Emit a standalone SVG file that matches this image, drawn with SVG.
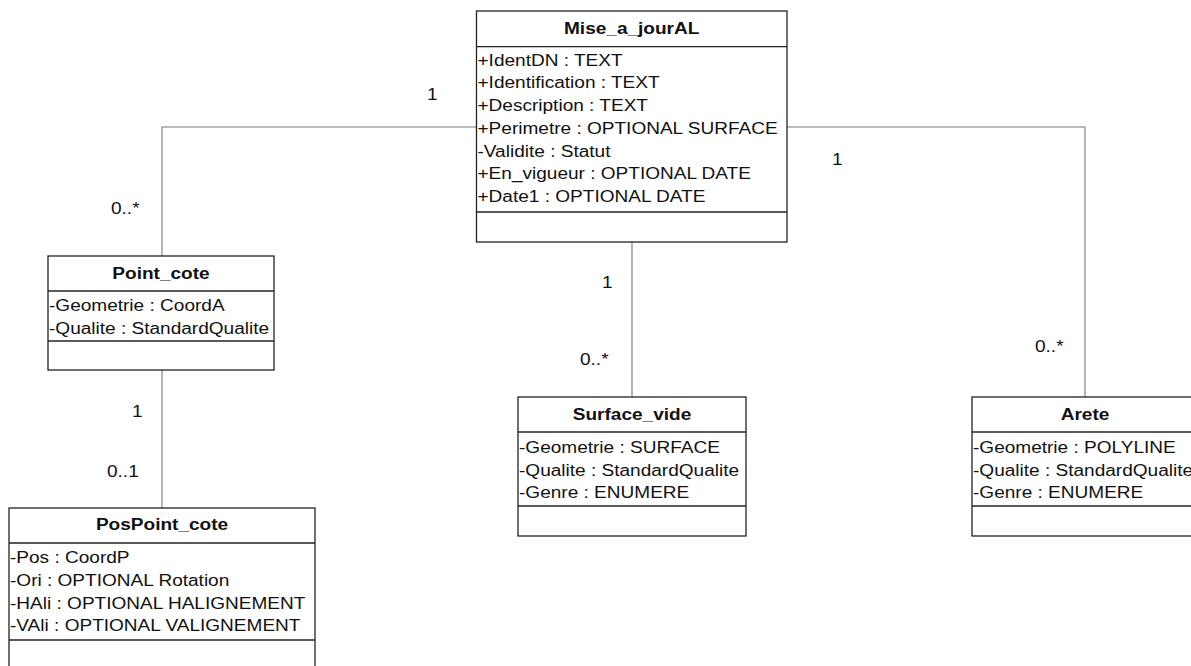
<svg xmlns="http://www.w3.org/2000/svg" width="1191" height="666" viewBox="0 0 1191 666">
<style>
.box{fill:#ffffff;stroke:#222222;stroke-width:1.3}
.sep{stroke:#222222;stroke-width:1.3;fill:none}
.conn{stroke:#777777;stroke-width:1.1;fill:none}
text{font-family:"Liberation Sans",Arial,sans-serif;font-size:16px;fill:#111111}
.title{font-weight:bold;text-anchor:middle}
</style>
<rect width="1191" height="666" fill="#ffffff"/>
<g id="connectors">
<polyline class="conn" points="476.5,127 162,127 162,256"/>
<polyline class="conn" points="787,127 1085,127 1085,397"/>
<line class="conn" x1="632" y1="242" x2="632" y2="397"/>
<line class="conn" x1="162" y1="370" x2="162" y2="508"/>
<text transform="translate(427 100) scale(1.19 1)">1</text>
<text transform="translate(111 214) scale(1.19 1)">0..*</text>
<text transform="translate(832 165) scale(1.19 1)">1</text>
<text transform="translate(1035 352) scale(1.19 1)">0..*</text>
<text transform="translate(602 288) scale(1.19 1)">1</text>
<text transform="translate(580 365) scale(1.19 1)">0..*</text>
<text transform="translate(132 417) scale(1.19 1)">1</text>
<text transform="translate(107 477) scale(1.19 1)">0..1</text>
</g>
<g id="Mise_a_jourAL">
<rect class="box" x="476.5" y="11" width="310.5" height="231"/>
<line class="sep" x1="476.5" y1="46.7" x2="787" y2="46.7"/>
<line class="sep" x1="476.5" y1="212" x2="787" y2="212"/>
<text class="title" transform="translate(631.7 34.3) scale(1.19 1)">Mise_a_jourAL</text>
<text transform="translate(477.5 65.7) scale(1.19 1)">+IdentDN : TEXT</text>
<text transform="translate(477.5 88.4) scale(1.19 1)">+Identification : TEXT</text>
<text transform="translate(477.5 111.1) scale(1.19 1)">+Description : TEXT</text>
<text transform="translate(477.5 133.9) scale(1.19 1)">+Perimetre : OPTIONAL SURFACE</text>
<text transform="translate(477.5 156.6) scale(1.19 1)">-Validite : Statut</text>
<text transform="translate(477.5 179.4) scale(1.19 1)">+En_vigueur : OPTIONAL DATE</text>
<text transform="translate(477.5 202.2) scale(1.19 1)">+Date1 : OPTIONAL DATE</text>
</g>
<g id="Point_cote">
<rect class="box" x="48" y="256" width="226" height="114"/>
<line class="sep" x1="48" y1="291" x2="274" y2="291"/>
<line class="sep" x1="48" y1="341" x2="274" y2="341"/>
<text class="title" transform="translate(161 279) scale(1.19 1)">Point_cote</text>
<text transform="translate(49 311) scale(1.19 1)">-Geometrie : CoordA</text>
<text transform="translate(49 333.5) scale(1.19 1)">-Qualite : StandardQualite</text>
</g>
<g id="Surface_vide">
<rect class="box" x="518" y="397" width="228" height="139"/>
<line class="sep" x1="518" y1="432" x2="746" y2="432"/>
<line class="sep" x1="518" y1="506" x2="746" y2="506"/>
<text class="title" transform="translate(632 419.5) scale(1.19 1)">Surface_vide</text>
<text transform="translate(519 452.7) scale(1.19 1)">-Geometrie : SURFACE</text>
<text transform="translate(519 475.5) scale(1.19 1)">-Qualite : StandardQualite</text>
<text transform="translate(519 498.3) scale(1.19 1)">-Genre : ENUMERE</text>
</g>
<g id="Arete">
<rect class="box" x="972" y="397" width="226" height="139"/>
<line class="sep" x1="972" y1="432" x2="1198" y2="432"/>
<line class="sep" x1="972" y1="506" x2="1198" y2="506"/>
<text class="title" transform="translate(1085 419.5) scale(1.19 1)">Arete</text>
<text transform="translate(973 452.7) scale(1.19 1)">-Geometrie : POLYLINE</text>
<text transform="translate(973 475.5) scale(1.19 1)">-Qualite : StandardQualite</text>
<text transform="translate(973 498.3) scale(1.19 1)">-Genre : ENUMERE</text>
</g>
<g id="PosPoint_cote">
<rect class="box" x="9" y="508" width="306" height="170"/>
<line class="sep" x1="9" y1="543" x2="315" y2="543"/>
<line class="sep" x1="9" y1="640" x2="315" y2="640"/>
<text class="title" transform="translate(162 530) scale(1.19 1)">PosPoint_cote</text>
<text transform="translate(10 563.3) scale(1.19 1)">-Pos : CoordP</text>
<text transform="translate(10 586) scale(1.19 1)">-Ori : OPTIONAL Rotation</text>
<text transform="translate(10 608.5) scale(1.19 1)">-HAli : OPTIONAL HALIGNEMENT</text>
<text transform="translate(10 631) scale(1.19 1)">-VAli : OPTIONAL VALIGNEMENT</text>
</g>
</svg>
